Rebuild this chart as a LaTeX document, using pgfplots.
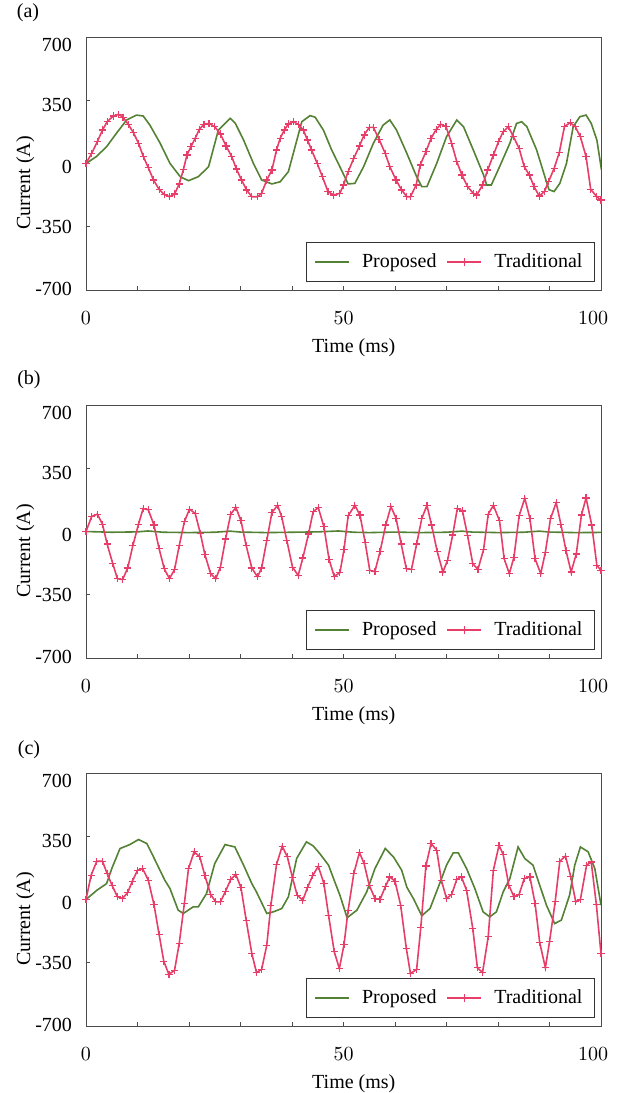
\documentclass[border=0pt]{standalone}
\usepackage{fontspec}
\setmainfont{Liberation Serif}
\usepackage{pgfplots}
\pgfplotsset{compat=1.18}
\definecolor{propgreen}{RGB}{84,130,53}
\definecolor{tradred}{RGB}{230,62,104}

\pgfplotsset{
  panel/.style={
    scale only axis, width=257.5pt, height=126.5pt,
    xmin=0, xmax=100, ymin=-700, ymax=700,
    xtick={0,50}, extra x ticks={100},
    extra x tick style={xticklabel style={xshift=-4pt}},
    minor xtick={10,20,...,90},
    ytick={-700,-350,0,350,700},
    yticklabels={\raisebox{0.5pt}[\height][\depth]{-700},-350,\raisebox{-1.5pt}[\height][\depth]{0},\raisebox{-2.5pt}[\height][\depth]{350},\raisebox{-4pt}[\height][\depth]{700}},
    tick align=inside, xtick pos=bottom, ytick pos=left,
    major tick length=2pt, minor tick length=2pt,
    axis line style={black!70}, tick style={black!70, thin},
    tick label style={font=\fontsize{10}{12}\selectfont},
    label style={font=\fontsize{10}{12}\selectfont},
    xticklabel style={yshift=-7.5pt},
    yticklabel style={xshift=-3.5pt},
    xlabel={Time (ms)}, ylabel={Current (A)},
    xlabel style={at={(axis description cs:0.52,-0.228)}, anchor=center},
    ylabel style={at={(axis description cs:-0.118,0.423)}, anchor=center},
    legend columns=2,
    legend style={at={(axis description cs:0.988,0.032)}, anchor=south east,
      draw=black!80, fill=white, font=\fontsize{10}{12}\selectfont,
      inner xsep=4pt, inner ysep=3.5pt,
      /tikz/every odd column/.append style={column sep=4pt},
      /tikz/every even column/.append style={column sep=3pt}},
  },
  prop/.style={propgreen, line width=0.8pt},
  trad/.style={tradred, line width=0.8pt, mark=+, mark size=1.8pt, mark options={line width=0.6pt}},
}

\begin{document}
\begin{tikzpicture}

% (a)
\begin{axis}[panel, name=a, at={(0,0)}, anchor=north west]
\addplot[prop] table {
0 0
2.0 38
4.0 93
5.9 167
7.9 241
9.8 268
11.1 263
12.4 213
14.4 112
16.3 1
18.3 -73
19.9 -95
21.8 -73
23.8 -18
25.7 185
28.0 250
29.0 222
30.6 130
32.5 1
34.1 -91
36.1 -113
37.7 -101
39.3 -45
40.6 93
41.9 231
43.5 265
44.5 256
46.1 185
47.7 75
49.3 -18
50.9 -113
52.2 -110
53.9 -18
55.8 112
57.7 213
59.0 241
60.3 185
62.3 56
64.2 -73
65.2 -128
66.2 -128
68.1 1
70.0 148
72.0 241
73.3 204
75.2 75
77.2 -64
77.8 -119
78.7 -119
80.3 -18
82.3 112
83.6 222
84.6 231
85.6 204
87.5 75
89.1 -73
89.9 -145
90.9 -155
92.0 -110
93.3 1
94.6 204
95.9 259
97.1 268
98.1 222
99.2 130
100.1 -36
};
\addlegendentry{Proposed}
\addplot[trad] table {
0 0
1.1 56
2.2 121
3.2 185
4.1 231
5.3 263
6.3 272
7.2 256
8.2 217
9.2 171
10.2 112
11.1 41
12.1 -23
13.1 -91
14.2 -143
15.2 -171
16.2 -184
17.2 -169
18.1 -113
18.9 -35
19.6 47
20.4 95
21.2 139
22.0 189
22.9 217
23.9 222
25.0 204
26.1 163
27.2 97
28.3 38
29.2 -30
30.2 -91
31.2 -147
32.2 -184
33.3 -184
34.1 -165
35.1 -91
36.1 -36
37.0 75
37.7 139
38.5 185
39.3 219
40.3 231
41.2 217
42.2 185
43.0 130
43.8 75
44.9 0
45.9 -73
47.0 -156
48.1 -174
49.3 -165
50.0 -119
50.9 -45
52.0 29
53.1 97
54.0 158
55.0 200
55.8 200
56.9 134
58.1 56
59.0 -18
60.2 -91
61.3 -147
62.3 -184
63.0 -184
64.1 -119
64.9 -8
66.0 65
67.0 139
68.0 189
68.9 217
69.9 204
71.0 112
72.0 10
73.0 -64
74.1 -128
75.2 -165
75.9 -174
77.0 -119
78.0 -36
79.1 47
80.1 121
81.0 176
82.0 204
83.0 148
84.1 84
85.1 -18
86.1 -64
87.0 -128
88.0 -180
89.0 -156
89.8 -101
90.9 -27
91.9 60
92.9 204
94.0 226
95.0 204
96.0 148
97.1 38
98.0 -143
99.2 -184
100.0 -202
};
\addlegendentry{Traditional}
\end{axis}

% (b)
\begin{axis}[panel, name=b, at={(0,-184pt)}, anchor=north west]
\addplot[prop] table {
0 0
5 -4
10 -2
12 3
15 -4
20 -6
25 -4
28 2
30 -3
35 -6
40 -4
45 -2
49 3
52 -4
55 -6
60 -3
65 -6
70 -4
73 2
75 -3
80 -6
85 -4
88 2
90 -3
95 -6
100 -5
};
\addlegendentry{Proposed}
\addplot[trad] table {
0 0
1.1 83
2.2 96
3.2 41
4.1 -69
5.2 -178
6.1 -261
7.1 -266
8.1 -202
9.1 -78
10.2 41
11.1 127
12.1 120
13.2 36
14.2 -96
15.2 -206
16.2 -261
17.2 -210
18.1 -78
19.1 54
20.1 124
21.2 100
22.2 -10
23.1 -129
24.2 -233
25.2 -261
26.1 -197
27.1 -41
28.1 96
29.1 133
30.1 59
31.1 -78
32.2 -202
33.3 -251
34.1 -202
35.1 -50
36.1 105
37.2 145
38.0 81
39.0 -50
40.1 -197
41.2 -243
42.1 -147
43.2 -14
44.1 109
45.1 133
46.2 26
47.2 -155
48.2 -248
49.3 -228
50.1 -100
50.9 87
52.2 145
53.2 91
54.2 -59
55.1 -215
56.1 -221
57.1 -111
58.2 36
59.2 138
60.2 74
61.2 -69
62.2 -206
63.2 -210
64.2 -69
65.2 72
66.2 145
67.1 36
68.2 -111
69.3 -224
70.2 -160
71.2 -19
72.1 127
73.1 114
74.1 -23
75.1 -178
76.1 -210
77.2 -100
78.1 96
79.1 145
80.3 59
81.2 -151
82.2 -233
83.1 -142
84.1 87
85.2 184
86.2 72
87.2 -151
88.3 -233
89.2 -114
90.2 72
91.3 160
92.2 41
93.2 -105
94.2 -224
95.2 -124
96.2 91
97.1 186
98.2 36
99.2 -188
100.0 -215
};
\addlegendentry{Traditional}
\end{axis}

% (c)
\begin{axis}[panel, name=c, at={(0,-368pt)}, anchor=north west]
\addplot[prop] table {
0 0
2.1 51
4.0 88
5.0 171
6.6 282
8.5 304
10.2 332
11.8 310
13.1 236
15.3 107
16.3 61
17.9 -59
18.9 -77
20.8 -41
21.8 -41
23.4 33
25.0 199
27.0 304
28.9 291
30.6 190
32.2 88
33.1 42
35.1 -77
36.4 -68
38.0 -50
39.3 15
40.9 227
42.8 319
44.1 297
45.4 254
47.1 190
48.3 98
49.3 24
50.7 -101
52.6 -59
54.5 42
56.1 171
58.1 282
59.7 236
61.3 162
62.3 68
63.6 4
65.2 -90
66.8 -50
68.8 98
70.0 190
71.3 258
72.3 258
73.9 171
75.5 61
77.1 -68
78.4 -96
79.7 -68
81.0 42
82.3 116
83.9 291
85.2 227
86.8 190
88.1 79
89.4 -31
91.0 -133
92.3 -114
93.9 24
94.9 190
96.0 291
97.5 264
98.8 171
100.0 -31
};
\addlegendentry{Proposed}
\addplot[trad] table {
0 0
1.0 135
2.1 212
3.2 212
4.1 144
5.1 76
6.1 15
7.1 6
8.1 39
9.0 101
10.0 162
11.0 171
12.1 107
13.2 -28
14.2 -194
15.1 -341
16.1 -415
17.2 -391
18.1 -243
19.1 -22
19.9 171
21.0 264
22.1 236
23.1 131
24.2 28
25.2 -13
26.1 -13
27.1 46
28.1 111
29.1 138
30.1 65
31.1 -114
32.2 -299
33.1 -404
34.1 -387
35.1 -253
35.9 -31
37.0 194
38.1 295
39.1 236
40.1 120
41.0 24
42.1 -4
43.0 66
44.0 131
45.1 184
46.2 88
47.1 -87
48.2 -289
49.2 -382
50.1 -249
50.9 -59
52.0 144
53.1 260
54.0 199
55.0 79
56.1 6
57.1 0
58.1 70
59.0 125
60.0 101
61.1 -31
62.2 -271
63.0 -409
64.2 -387
65.0 -157
66.0 186
67.0 310
68.1 273
69.0 107
70.0 6
71.0 28
72.0 112
72.9 125
73.9 51
75.1 -160
76.0 -378
77.0 -404
78.1 -206
79.1 162
80.2 300
81.0 249
82.1 79
83.1 15
84.1 28
85.1 116
86.2 125
87.2 -22
88.1 -238
89.2 -378
90.0 -234
91.1 -13
92.0 212
93.1 240
94.1 129
95.1 -13
96.0 0
97.2 190
98.1 208
99.1 -28
100.0 -300
};
\addlegendentry{Traditional}
\end{axis}

\node[font=\fontsize{10}{12}\selectfont] at ([shift={(-29pt,12pt)}]a.north west) {(a)};
\node[font=\fontsize{10}{12}\selectfont] at ([shift={(-28.5pt,12.5pt)}]b.north west) {(b)};
\node[font=\fontsize{10}{12}\selectfont] at ([shift={(-28.5pt,11.5pt)}]c.north west) {(c)};
\pgfresetboundingbox
\path (a.north west) ++(-43pt,18.5pt) rectangle ++(312pt,-546.5pt);
\end{tikzpicture}
\end{document}
